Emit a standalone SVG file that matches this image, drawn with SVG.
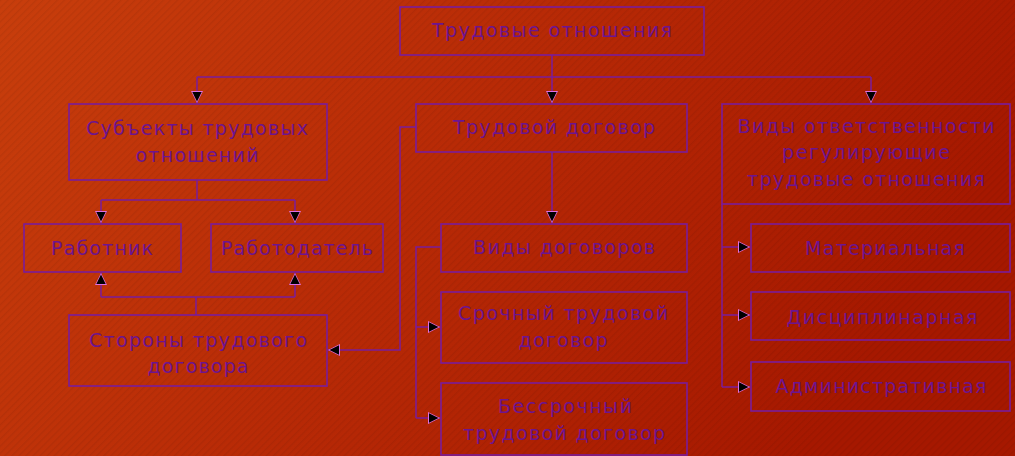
<svg xmlns="http://www.w3.org/2000/svg" width="1015" height="456" viewBox="0 0 1015 456">
<defs>
<linearGradient id="bg" x1="0" y1="0" x2="1" y2="0.3">
<stop offset="0" stop-color="#C83E0C"/>
<stop offset="0.5" stop-color="#B82A06"/>
<stop offset="1" stop-color="#A61800"/>
</linearGradient>
<pattern id="stripes" width="5" height="5" patternUnits="userSpaceOnUse" patternTransform="rotate(45)">
<rect width="1.4" height="5" fill="#000" fill-opacity="0.06"/>
</pattern>
<marker id="arr" viewBox="0 0 13 13" refX="12.5" refY="6.5" markerWidth="13" markerHeight="13" markerUnits="userSpaceOnUse" orient="auto">
<path d="M0.5,0.5 L12.5,6.5 L0.5,12.5 Z" fill="#E070E0"/>
<path d="M1.5,1.8 L11,6.5 L1.5,11.2 Z" fill="#000000"/>
</marker>
</defs>
<style>
.box{fill:none;stroke:#7A1C9C;stroke-width:1.6}
.t{font-family:"DejaVu Sans",sans-serif;font-size:19px;fill:#6C1490;text-anchor:middle}
.c{fill:none;stroke:#7A1C9C;stroke-width:1.5}
</style>
<rect width="1015" height="456" fill="url(#bg)"/>
<rect width="1015" height="456" fill="url(#stripes)"/>

<g id="connectors">
<path class="c" d="M552,55 V103" marker-end="url(#arr)"/>
<path class="c" d="M197,77 H871"/>
<path class="c" d="M197,77 V103" marker-end="url(#arr)"/>
<path class="c" d="M871,77 V103" marker-end="url(#arr)"/>
<path class="c" d="M197,180 V200 M101,200 H295"/>
<path class="c" d="M101,200 V223" marker-end="url(#arr)"/>
<path class="c" d="M295,200 V223" marker-end="url(#arr)"/>
<path class="c" d="M196,315 V297 M101,297 H295"/>
<path class="c" d="M101,297 V273" marker-end="url(#arr)"/>
<path class="c" d="M295,297 V273" marker-end="url(#arr)"/>
<path class="c" d="M416,127 H400 V350 H328" marker-end="url(#arr)"/>
<path class="c" d="M552,152 V223" marker-end="url(#arr)"/>
<path class="c" d="M441,247 H416 V418"/>
<path class="c" d="M416,327 H440" marker-end="url(#arr)"/>
<path class="c" d="M416,418 H440" marker-end="url(#arr)"/>
<path class="c" d="M722,204 V387"/>
<path class="c" d="M722,247 H750" marker-end="url(#arr)"/>
<path class="c" d="M722,315 H750" marker-end="url(#arr)"/>
<path class="c" d="M722,387 H750" marker-end="url(#arr)"/>
</g>

<g id="n-labor-relations">
<rect class="box" x="400" y="7" width="304" height="48"/>
<text class="t" x="552" y="37" textLength="240" lengthAdjust="spacing">Трудовые отношения</text>
</g>
<g id="n-subjects">
<rect class="box" x="69" y="104" width="258" height="76"/>
<text class="t" x="197" y="135" textLength="222" lengthAdjust="spacing">Субъекты трудовых</text>
<text class="t" x="197" y="162" textLength="123" lengthAdjust="spacing">отношений</text>
</g>
<g id="n-contract">
<rect class="box" x="416" y="104" width="271" height="48"/>
<text class="t" x="554" y="134" textLength="202" lengthAdjust="spacing">Трудовой договор</text>
</g>
<g id="n-liability">
<rect class="box" x="722" y="104" width="288" height="100"/>
<text class="t" x="866" y="133" textLength="257" lengthAdjust="spacing">Виды ответственности</text>
<text class="t" x="866" y="159" textLength="168" lengthAdjust="spacing">регулирующие</text>
<text class="t" x="866" y="186" textLength="238" lengthAdjust="spacing">трудовые отношения</text>
</g>
<g id="n-employee">
<rect class="box" x="24" y="224" width="157" height="48"/>
<text class="t" x="102" y="255" textLength="102" lengthAdjust="spacing">Работник</text>
</g>
<g id="n-employer">
<rect class="box" x="211" y="224" width="172" height="48"/>
<text class="t" x="297" y="255" textLength="152" lengthAdjust="spacing">Работодатель</text>
</g>
<g id="n-parties">
<rect class="box" x="69" y="315" width="258" height="71"/>
<text class="t" x="198" y="347" textLength="218" lengthAdjust="spacing">Стороны трудового</text>
<text class="t" x="198" y="373" textLength="101" lengthAdjust="spacing">договора</text>
</g>
<g id="n-contract-types">
<rect class="box" x="441" y="224" width="246" height="48"/>
<text class="t" x="564" y="254" textLength="182" lengthAdjust="spacing">Виды договоров</text>
</g>
<g id="n-fixed-term">
<rect class="box" x="441" y="292" width="246" height="71"/>
<text class="t" x="563" y="320" textLength="210" lengthAdjust="spacing">Срочный трудовой</text>
<text class="t" x="563" y="347" textLength="89" lengthAdjust="spacing">договор</text>
</g>
<g id="n-indefinite">
<rect class="box" x="441" y="383" width="246" height="72"/>
<text class="t" x="565" y="413" textLength="134" lengthAdjust="spacing">Бессрочный</text>
<text class="t" x="564" y="440" textLength="202" lengthAdjust="spacing">трудовой договор</text>
</g>
<g id="n-material">
<rect class="box" x="751" y="224" width="259" height="48"/>
<text class="t" x="885" y="255" textLength="160" lengthAdjust="spacing">Материальная</text>
</g>
<g id="n-disciplinary">
<rect class="box" x="751" y="292" width="259" height="48"/>
<text class="t" x="882" y="324" textLength="191" lengthAdjust="spacing">Дисциплинарная</text>
</g>
<g id="n-administrative">
<rect class="box" x="751" y="362" width="259" height="49"/>
<text class="t" x="881" y="393" textLength="211" lengthAdjust="spacing">Административная</text>
</g>
</svg>
